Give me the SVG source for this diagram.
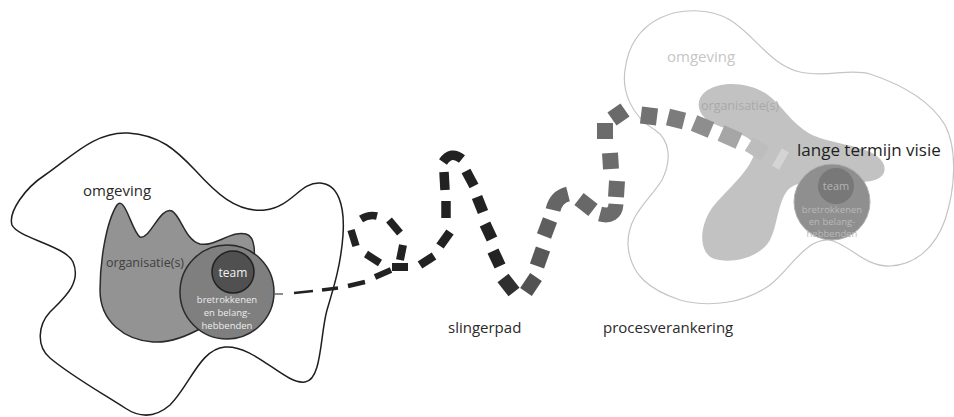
<svg xmlns="http://www.w3.org/2000/svg" width="954" height="417" viewBox="0 0 954 417">
  <style>
    text { font-family: "Open Sans", "Noto Sans", "DejaVu Sans", sans-serif; }
    .lbl { font-size: 15px; fill: #2a2a2a; }
    .org { font-size: 12.5px; }
    .small { font-size: 9.5px; text-anchor: middle; }
    .dash { fill: none; stroke-linecap: butt; }
  </style>

  <!-- left situation: environment, organisation, team with stakeholders -->
  <g id="omgeving-links">
    <path d="M 12,225 C 8,212 25,188 45,175 C 70,158 95,131 128,133 C 160,135 176,150 195,170 C 215,192 236,213 265,210 C 292,207 300,182 320,183 C 338,184 345,205 343,235 C 341,265 333,290 327,310 C 320,335 322,380 305,382 C 285,385 255,345 225,347 C 200,349 190,385 170,405 C 155,418 140,418 125,408 C 100,392 70,375 50,358 C 36,346 38,325 50,312 C 64,298 82,283 73,262 C 66,246 18,238 12,225 Z" fill="#ffffff" stroke="#1e1e1e" stroke-width="1.5"/>
    <text class="lbl" x="83" y="196">omgeving</text>
  </g>

  <g id="organisatie-links">
    <path d="M 100,290 C 100,262 106,222 117,205 C 125,195 132,232 140,237 C 150,240 160,206 172,211 C 181,216 185,240 200,244 C 215,247 232,230 246,234 C 256,237 255,255 253,262 L 205,326 C 188,336 170,343 153,342 C 125,340 100,322 100,290 Z" fill="#939393" stroke="#2a2a2a" stroke-width="1.5"/>
    <text class="org" x="106" y="267" fill="#404040">organisatie(s)</text>
  </g>

  <g id="betrokkenen-links">
    <circle cx="227" cy="292" r="47" fill="#7f7f7f" stroke="#2a2a2a" stroke-width="1.5"/>
    <circle cx="233" cy="272" r="21" fill="#505050" stroke="#222222" stroke-width="1.5"/>
    <text x="233" y="277" font-size="12" fill="#f2f2f2" text-anchor="middle">team</text>
    <text class="small" x="227" y="303" fill="#ececec">bretrokkenen</text>
    <text class="small" x="227" y="316" fill="#ececec">en belang-</text>
    <text class="small" x="227" y="329" fill="#ececec">hebbenden</text>
  </g>

  <!-- right situation: long-term vision -->
  <g id="omgeving-rechts">
    <path d="M 660,18 C 680,8 710,8 730,20 C 755,35 770,65 800,72 C 825,78 850,68 870,74 C 900,84 930,100 945,125 C 958,150 955,190 945,220 C 935,248 915,265 890,266 C 865,267 850,245 830,240 C 805,238 790,270 770,285 C 745,303 710,308 680,300 C 650,290 630,275 628,245 C 627,215 650,200 662,180 C 672,160 670,140 655,130 C 630,115 622,90 625,70 C 628,45 640,28 660,18 Z" fill="#ffffff" stroke="#c4c4c4" stroke-width="1.2"/>
    <text class="lbl" x="667" y="62" style="fill:#c6c6c6">omgeving</text>
  </g>

  <g id="organisatie-rechts">
    <path d="M 705,92 C 720,80 750,82 768,95 C 785,108 795,130 820,138 C 845,146 878,148 884,165 C 888,180 870,183 850,182 C 820,182 800,180 790,188 C 778,198 778,225 770,240 C 760,258 730,265 712,258 C 698,250 700,225 712,208 C 728,188 752,170 755,150 C 757,135 725,130 710,122 C 697,114 695,100 705,92 Z" fill="#c2c2c2"/>
    <text class="org" x="701" y="110" fill="#a9a9a9">organisatie(s)</text>
  </g>

  <g id="betrokkenen-rechts">
    <circle cx="832" cy="202" r="38" fill="#8f8f8f" stroke="#b0b0b0" stroke-width="1"/>
    <circle cx="836" cy="186" r="18" fill="#787878"/>
    <text x="836" y="190" font-size="11" fill="#b4b4b4" text-anchor="middle">team</text>
    <text class="small" x="832" y="213" fill="#b8b8b8">bretrokkenen</text>
    <text class="small" x="832" y="225" fill="#b8b8b8">en belang-</text>
    <text class="small" x="832" y="237" fill="#b8b8b8">hebbenden</text>
  </g>

  <!-- winding path: dashes growing wider and fading towards the vision -->
  <g id="connectors" class="dash">
    <path d="M 274,294 L 283,294" stroke="#666" stroke-width="1.5"/>
    <path d="M 294,293 L 313,291" stroke="#222" stroke-width="2.5"/>
    <path d="M 322,290 L 338,288" stroke="#222" stroke-width="3.5"/>
    <path d="M 348,286 L 365,282" stroke="#222" stroke-width="4.5"/>
    <path d="M 375,277 L 391,270" stroke="#222" stroke-width="6"/>
    <path d="M 392,267 L 408,267" stroke="#222" stroke-width="8"/>
    <path d="M 403,245 L 400,260" stroke="#222" stroke-width="8"/>
    <path d="M 389,220 L 400,233" stroke="#222" stroke-width="7.5"/>
    <path d="M 361,219 Q 369,214 377,216" stroke="#222" stroke-width="7.5"/>
    <path d="M 351,230 L 356,246" stroke="#222" stroke-width="7.5"/>
    <path d="M 366,254 L 380,263" stroke="#222" stroke-width="7.5"/>
    <path d="M 420,265 L 434,256" stroke="#222" stroke-width="8.5"/>
    <path d="M 440,246 L 450,232" stroke="#222" stroke-width="9"/>
    <path d="M 446,218 L 446,201" stroke="#222" stroke-width="9.5"/>
    <path d="M 445,190 L 444,172" stroke="#222" stroke-width="9.5"/>
    <path d="M 443,162 Q 451,150 462,159" stroke="#222" stroke-width="9.5"/>
    <path d="M 466,171 L 474,186" stroke="#222" stroke-width="10"/>
    <path d="M 477,197 L 483,212" stroke="#222" stroke-width="11"/>
    <path d="M 485,224 L 492,239" stroke="#222" stroke-width="11.5"/>
    <path d="M 493,251 L 500,266" stroke="#232323" stroke-width="12"/>
    <path d="M 503,278 L 514,292" stroke="#2f2f2f" stroke-width="14"/>
    <path d="M 526,292 L 536,277" stroke="#525252" stroke-width="14"/>
    <path d="M 537,266 L 543,249" stroke="#585858" stroke-width="15"/>
    <path d="M 544,236 L 550,220" stroke="#5e5e5e" stroke-width="15"/>
    <path d="M 553,210 Q 556,197 568,194" stroke="#656565" stroke-width="15"/>
    <path d="M 579,199 L 593,210" stroke="#686868" stroke-width="15"/>
    <path d="M 600,214 Q 615,218 616,204" stroke="#6b6b6b" stroke-width="15"/>
    <path d="M 616,197 L 617,181" stroke="#6b6b6b" stroke-width="16"/>
    <path d="M 611,169 L 610,153" stroke="#6c6c6c" stroke-width="16"/>
    <path d="M 605,139 L 605,123" stroke="#6b6b6b" stroke-width="16"/>
    <path d="M 612,119 L 625,110" stroke="#6a6a6a" stroke-width="16"/>
    <path d="M 641,115 L 657,117" stroke="#727272" stroke-width="17"/>
    <path d="M 668,117 L 684,121" stroke="#7c7c7c" stroke-width="17"/>
    <path d="M 694,123 L 711,130" stroke="#8e8e8e" stroke-width="17"/>
    <path d="M 721,133 L 739,141" stroke="#a6a6a6" stroke-width="17"/>
    <path d="M 749,144 L 765,154" stroke="#bdbdbd" stroke-width="16"/>
    <path d="M 777,157 L 784,161" stroke="#d4d4d4" stroke-width="20"/>
  </g>

  <g id="labels">
    <text class="lbl" x="448" y="333">slingerpad</text>
    <text class="lbl" x="603" y="333">procesverankering</text>
    <text x="797" y="156" font-size="17" fill="#1e1e1e">lange termijn visie</text>
  </g>
</svg>
